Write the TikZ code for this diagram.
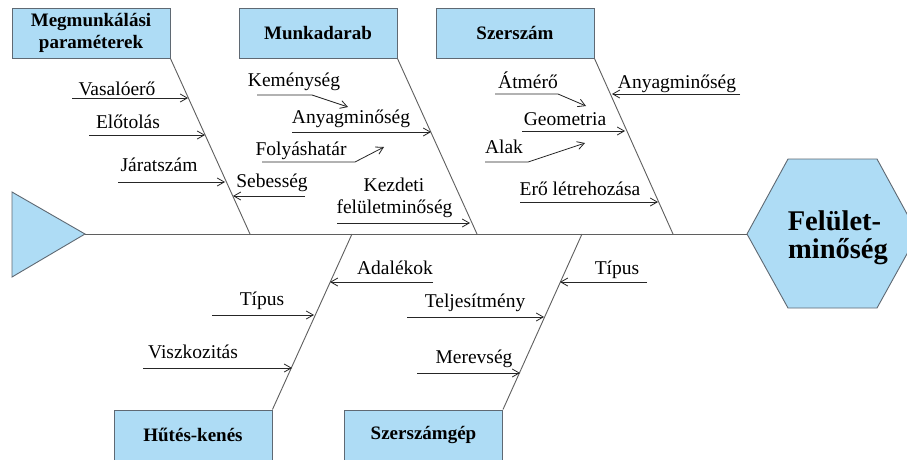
\documentclass[tikz,border=0pt]{standalone}
\usepackage{fontspec}
\IfFontExistsTF{Liberation Serif}{\setmainfont{Liberation Serif}\def\diagcol{black}}{\def\diagcol{red}}
\usetikzlibrary{arrows.meta}
\definecolor{boxfill}{RGB}{174,220,245}
\definecolor{boxline}{RGB}{95,105,115}
\definecolor{boneline}{RGB}{95,95,95}
\begin{document}
\begin{tikzpicture}[x=1pt,y=-1pt,
  catbox/.style={draw=boxline, fill=boxfill, line width=0.9pt, minimum width=158pt, minimum height=50pt, inner sep=0pt, font=\fontsize{19}{22}\selectfont\bfseries, align=center, text=\diagcol},
  lbl/.style={anchor=base, inner sep=0pt, font=\fontsize{19.5}{22}\selectfont, text=\diagcol},
  bigl/.style={anchor=base, inner sep=0pt, font=\fontsize{28.5}{28}\selectfont\bfseries},
  bone/.style={draw=boneline, line width=0.9pt},
  shapeline/.style={draw=boxline, fill=boxfill, line width=0.9pt},
  arr/.style={draw=black!85, line width=0.8pt, -{Straight Barb[length=7pt,width=8pt]}}]
\clip (0,0) rectangle (907,459);
\fill[white] (0,0) rectangle (907,459);

% head and tail
\coordinate (t1) at (12,192); \coordinate (t2) at (12,277); \coordinate (tail) at (85,234);
\draw[shapeline] (t1) -- (t2) -- (tail) -- cycle;
\coordinate (head) at (747,234);
\coordinate (h2) at (788,159); \coordinate (h3) at (877,159); \coordinate (h4) at (918,234);
\coordinate (h5) at (877,308); \coordinate (h6) at (788,308);
\draw[shapeline] (head) -- (h2) -- (h3) -- (h4) -- (h5) -- (h6) -- cycle;
\node[bigl] (g1) at (834.5,230) {Felület-};
\node[bigl] (g2) at (838,258) {minőség};

% spine
\draw[bone] (tail) -- (head);

% category boxes
\node[catbox] (c1) at (91,33) {Megmunkálási\\paraméterek};
\node[catbox] (c2) at (318,33) {Munkadarab};
\node[catbox] (c3) at (515,33) {Szerszám};
\node[catbox] (c4) at (193,435) {Hűtés-kenés};
\node[catbox] (c5) at (423.5,435) {Szerszámgép};

% bones
\coordinate (s1) at (250,234); \coordinate (s2) at (477,234); \coordinate (s3) at (673,234);
\coordinate (s4) at (352,234); \coordinate (s5) at (582,234);
\draw[bone] (c1.south east) -- (s1);
\draw[bone] (c2.south east) -- (s2);
\draw[bone] (c3.south east) -- (s3);
\draw[bone] (c4.north east) -- (s4);
\draw[bone] (c5.north east) -- (s5);

% bone 1
\node[lbl] (l11) at (117,95) {Vasalóerő};
\coordinate (a11) at (72,98); \coordinate (b11) at (188,98);
\draw[arr] (a11) -- (b11);
\node[lbl] (l12) at (128,128) {Előtolás};
\coordinate (a12) at (89,135); \coordinate (b12) at (205,135);
\draw[arr] (a12) -- (b12);
\node[lbl] (l13) at (159,171) {Járatszám};
\coordinate (a13) at (118,182); \coordinate (b13) at (225,182);
\draw[arr] (a13) -- (b13);
\node[lbl] (l14) at (272,187) {Sebesség};
\coordinate (a14) at (305,196); \coordinate (b14) at (233,196);
\draw[arr] (a14) -- (b14);

% bone 2
\node[lbl] (l21) at (294,86) {Keménység};
\coordinate (a21) at (257,95); \coordinate (k21) at (312,95); \coordinate (b21) at (348,107);
\draw[arr] (a21) -- (k21) -- (b21);
\node[lbl] (l22) at (351,123) {Anyagminőség};
\coordinate (a22) at (292,132); \coordinate (b22) at (431,132);
\draw[arr] (a22) -- (b22);
\node[lbl] (l23) at (301,155) {Folyáshatár};
\coordinate (a23) at (262,162); \coordinate (k23) at (355,162); \coordinate (b23) at (384,147);
\draw[arr] (a23) -- (k23) -- (b23);
\node[lbl] (l24a) at (394,191) {Kezdeti};
\node[lbl] (l24b) at (394.5,213) {felületminőség};
\coordinate (a24) at (337,223); \coordinate (b24) at (470,223);
\draw[arr] (a24) -- (b24);

% bone 3
\node[lbl] (l31) at (528,88) {Átmérő};
\coordinate (a31) at (495,94); \coordinate (k31) at (558,94); \coordinate (b31) at (586,106);
\draw[arr] (a31) -- (k31) -- (b31);
\node[lbl] (l32) at (677,88) {Anyagminőség};
\coordinate (a32) at (740,94); \coordinate (b32) at (612,94);
\draw[arr] (a32) -- (b32);
\node[lbl] (l33) at (565,125) {Geometria};
\coordinate (a33) at (522,131); \coordinate (b33) at (625,131);
\draw[arr] (a33) -- (b33);
\node[lbl] (l34) at (504,153) {Alak};
\coordinate (a34) at (485,162); \coordinate (k34) at (528,162); \coordinate (b34) at (585,143);
\draw[arr] (a34) -- (k34) -- (b34);
\node[lbl] (l35) at (580,195) {Erő létrehozása};
\coordinate (a35) at (520,202); \coordinate (b35) at (658,202);
\draw[arr] (a35) -- (b35);

% bone 4
\node[lbl] (l41) at (395,274) {Adalékok};
\coordinate (a41) at (433,282); \coordinate (b41) at (330,282);
\draw[arr] (a41) -- (b41);
\node[lbl] (l42) at (262,305) {Típus};
\coordinate (a42) at (212,315); \coordinate (b42) at (314,315);
\draw[arr] (a42) -- (b42);
\node[lbl] (l43) at (193,358) {Viszkozitás};
\coordinate (a43) at (143,368); \coordinate (b43) at (292,368);
\draw[arr] (a43) -- (b43);

% bone 5
\node[lbl] (l51) at (617,274) {Típus};
\coordinate (a51) at (647,282); \coordinate (b51) at (560,282);
\draw[arr] (a51) -- (b51);
\node[lbl] (l52) at (475,307) {Teljesítmény};
\coordinate (a52) at (407,317); \coordinate (b52) at (544,317);
\draw[arr] (a52) -- (b52);
\node[lbl] (l53) at (474,363) {Merevség};
\coordinate (a53) at (417,373); \coordinate (b53) at (520,373);
\draw[arr] (a53) -- (b53);
\end{tikzpicture}
\end{document}
